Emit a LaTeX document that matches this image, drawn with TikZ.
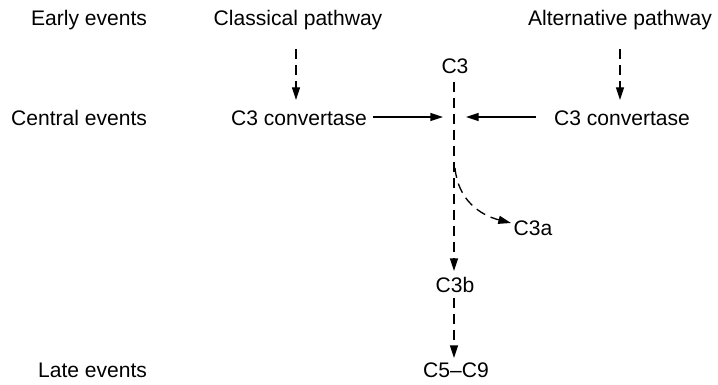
\documentclass[tikz,border=0pt]{standalone}
\usepackage{fontspec}
\setmainfont{Liberation Sans}
\usetikzlibrary{arrows.meta}
\begin{document}
\begin{tikzpicture}[x=0.75pt,y=-0.75pt,
  lbl/.style={font=\fontsize{15.8}{18}\selectfont, inner sep=1pt},
  tip/.style={-{Triangle[length=9.5pt,width=6pt]}},
  dsh/.style={dash pattern=on 7.5pt off 4.5pt},
  every path/.style={line width=1pt}]
\useasboundingbox (0,0) rectangle (718,385);
\node[lbl,anchor=east] (early) at (149,20) {Early events};
\node[lbl,anchor=east] (central) at (149,118) {Central events};
\node[lbl,anchor=east] (late) at (149,370) {Late events};
\node[lbl] (classical) at (298,20) {Classical pathway};
\node[lbl] (alt) at (620,20) {Alternative pathway};
\node[lbl] (c3) at (455,66) {C3};
\node[lbl] (cl) at (299,118) {C3 convertase};
\node[lbl] (cr) at (622,118) {C3 convertase};
\node[lbl] (c3a) at (533,228) {C3a};
\node[lbl] (c3b) at (455,285) {C3b};
\node[lbl] (c59) at (456,370) {C5--C9};
\coordinate (br) at (455,168);
\coordinate (c3aTip) at (511,223);
\coordinate (c3bTip) at (454,271);
\coordinate (clA) at (296,49);
\coordinate (clB) at (296,100);
\coordinate (arA) at (620,49);
\coordinate (arB) at (620,100);
\coordinate (lA) at (373,117);
\coordinate (lB) at (443,117);
\coordinate (rA) at (536,117);
\coordinate (rB) at (466,117);
\coordinate (c3top) at (454,82);
\coordinate (c59top) at (454,298);
\coordinate (c59tip) at (454,358);
\draw[dsh,tip] (clA) -- (clB);
\draw[dsh,tip] (arA) -- (arB);
\draw[tip] (lA) -- (lB);
\draw[tip] (rA) -- (rB);
\draw[dsh,tip] (c3top) -- (c3bTip);
\draw[dsh,tip] (br) .. controls (458,200) and (480,215) .. (c3aTip);
\draw[dsh,tip] (c59top) -- (c59tip);
\end{tikzpicture}
\end{document}
